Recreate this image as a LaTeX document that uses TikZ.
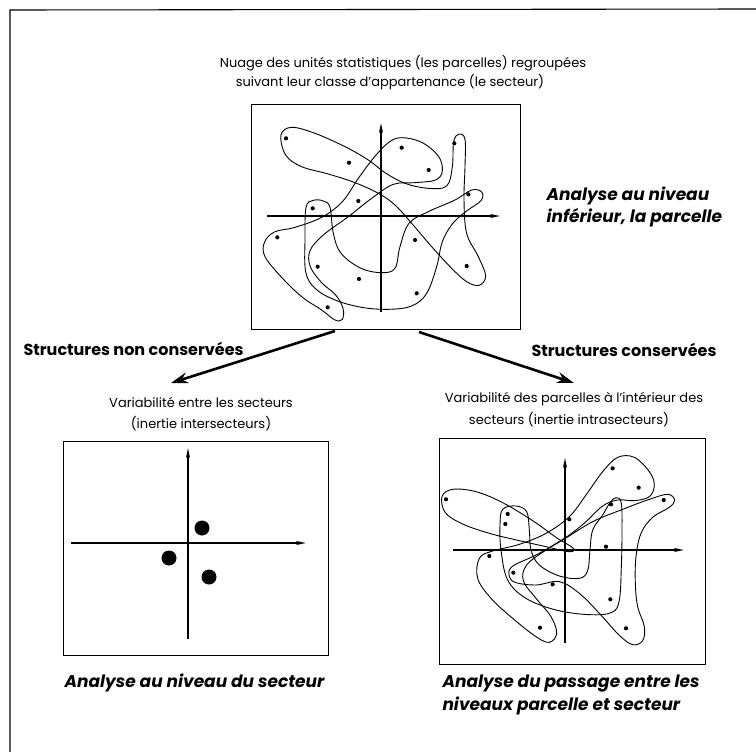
\documentclass[tikz,border=0pt]{standalone}
\usepackage{fontspec}
\setmainfont{Poppins}
\usetikzlibrary{arrows.meta}
\begin{document}
\begin{tikzpicture}[x=1pt,y=-1pt,
  frame/.style={line width=1.1pt},
  panel/.style={draw, line width=1.3pt, inner sep=0pt, anchor=north west},
  axis/.style={line width=1.6pt, -{Stealth[length=10pt,width=4pt]}},
  blob/.style={line width=0.9pt},
  dot/.style={circle, fill, inner sep=0pt, minimum size=4.2pt},
  bigdot/.style={circle, fill, inner sep=0pt, minimum size=15pt},
  small/.style={font=\fontsize{13}{16}\selectfont},
  heading/.style={font=\bfseries\fontsize{16}{19}\selectfont},
  emph/.style={font=\bfseries\itshape\fontsize{17}{22.5}\selectfont, align=left},
  branch/.style={line width=2.6pt, -{Stealth[length=17pt,width=11pt]}},
]
\useasboundingbox (0,0) rectangle (756,752);
% outer frame (top and left only)
\draw[frame] (10,752) -- (10,10) -- (756,9);

% ---------- texts ----------
\node[small] (tt1) at (403,63) {Nuage des unités statistiques (les parcelles) regroupées};
\node[small] (tt2) at (390,82) {suivant leur classe d'appartenance (le secteur)};
\node[emph, anchor=west] (ta) at (543,207) {Analyse au niveau\\inférieur, la parcelle};
\node[heading, anchor=west] (hs1) at (20,349) {Structures non conservées};
\node[heading, anchor=west] (hs2) at (528,350) {Structures conservées};
\node[small] (vl1) at (201,402) {Variabilité entre les secteurs};
\node[small] (vl2) at (201,424) {(inertie intersecteurs)};
\node[small] (vr1) at (574,399) {Variabilité des parcelles à l'intérieur des};
\node[small] (vr2) at (569,420) {secteurs (inertie intrasecteurs)};
\node[emph, anchor=west] (bl) at (61,683) {Analyse au niveau du secteur};
\node[emph, anchor=west] (br) at (439,695) {Analyse du passage entre les\\niveaux parcelle et secteur};

% ---------- panels ----------
\node[panel, minimum width=269pt, minimum height=225pt] (ptop) at (251,104) {};
\node[panel, minimum width=265pt, minimum height=214pt] (pbl) at (63,441) {};
\node[panel, minimum width=266pt, minimum height=226pt] (pbr) at (439,438) {};

% ---------- branch arrows ----------
\coordinate (ls) at (335,331);
\coordinate (le) at (171,383);
\coordinate (rs) at (419,332);
\coordinate (re) at (574,383);
\draw[branch] (ls) -- (le);
\draw[branch] (rs) -- (re);

% ---------- top panel ----------
\coordinate (tya) at (381,312); \coordinate (tyb) at (381,123);
\coordinate (txa) at (267,216); \coordinate (txb) at (500,216);
\draw[axis] (tya) -- (tyb);
\draw[axis] (txa) -- (txb);
\begin{scope}[shift={(255,100)}, scale=1/3]
\draw[blob] plot[smooth cycle, tension=0.6] coordinates {(78,105) (110,82) (180,100) (270,140) (340,180) (390,218) (450,250) (520,265) (575,258) (592,200) (596,125) (612,102) (630,118) (630,200) (627,300) (635,400) (670,470) (692,528) (672,556) (635,545) (590,505) (530,440) (470,370) (420,315) (370,280) (300,248) (220,222) (140,200) (92,165)};
\draw[blob] plot[smooth cycle, tension=0.6] coordinates {(440,113) (500,127) (550,168) (562,212) (542,240) (480,248) (415,253) (350,295) (280,350) (205,405) (165,452) (166,500) (200,548) (242,585) (264,625) (262,658) (240,660) (200,630) (140,590) (78,530) (30,470) (28,428) (58,396) (120,382) (200,352) (262,305) (310,235) (355,175) (400,128)};
\draw[blob] plot[smooth cycle, tension=0.6] coordinates {(205,303) (225,322) (235,400) (258,460) (318,505) (380,518) (420,505) (435,440) (462,370) (520,335) (600,300) (650,270) (680,276) (678,302) (632,335) (592,372) (562,425) (545,500) (515,580) (470,618) (400,628) (320,622) (240,600) (180,565) (152,515) (150,420) (153,322) (175,301)};
\node[dot] (d1) at (93,115) {};
\node[dot] (d2) at (282,188) {};
\node[dot] (d3) at (440,143) {};
\node[dot] (d4) at (521,210) {};
\node[dot] (d5) at (598,130) {};
\node[dot] (d6) at (640,283) {};
\node[dot] (d7) at (310,303) {};
\node[dot] (d8) at (173,325) {};
\node[dot] (d9) at (67,412) {};
\node[dot] (d10) at (480,420) {};
\node[dot] (d11) at (188,500) {};
\node[dot] (d12) at (312,537) {};
\node[dot] (d13) at (635,498) {};
\node[dot] (d14) at (485,580) {};
\node[dot] (d15) at (218,622) {};
\end{scope}

% ---------- bottom-left panel ----------
\coordinate (lya) at (188,639); \coordinate (lyb) at (188,448);
\coordinate (lxa) at (71,543); \coordinate (lxb) at (306,543);
\draw[axis] (lya) -- (lyb);
\draw[axis] (lxa) -- (lxb);
\node[bigdot] (g1) at (202,528) {};
\node[bigdot] (g2) at (169,558) {};
\node[bigdot] (g3) at (209,577) {};

% ---------- bottom-right panel ----------
\coordinate (rya) at (565,643); \coordinate (ryb) at (565,458);
\coordinate (rxa) at (453,550); \coordinate (rxb) at (684,550);
\draw[axis] (rya) -- (ryb);
\draw[axis] (rxa) -- (rxb);
\begin{scope}[shift={(436,450)}, scale=1/3]
\draw[blob] plot[smooth cycle, tension=0.6] coordinates {(18,140) (50,118) (120,125) (200,158) (290,212) (360,262) (412,295) (398,305) (330,290) (250,272) (160,250) (80,222) (28,188)};
\draw[blob] plot[smooth cycle, tension=0.6] coordinates {(200,178) (240,168) (272,185) (280,240) (285,300) (310,345) (370,378) (430,385) (455,362) (462,300) (470,240) (500,195) (522,158) (540,143) (556,160) (558,250) (556,350) (550,450) (528,487) (460,494) (360,480) (270,445) (215,390) (195,300) (192,225)};
\draw[blob] plot[smooth cycle, tension=0.6] coordinates {(130,325) (170,303) (250,283) (330,250) (400,200) (450,135) (500,65) (545,22) (595,22) (640,65) (655,105) (640,140) (595,152) (545,150) (500,168) (450,215) (400,255) (330,300) (272,345) (262,392) (300,445) (345,500) (362,550) (340,577) (300,560) (230,505) (165,445) (125,385)};
\draw[blob] plot[smooth cycle, tension=0.6] coordinates {(228,350) (300,315) (380,270) (470,215) (560,178) (640,148) (695,133) (716,150) (700,172) (650,202) (615,250) (600,320) (598,400) (605,470) (625,530) (620,572) (590,584) (550,556) (490,490) (430,430) (370,395) (300,405) (240,398) (220,380)};
\node[dot] (e1) at (30,148) {};
\node[dot] (e2) at (530,55) {};
\node[dot] (e3) at (608,113) {};
\node[dot] (e4) at (683,150) {};
\node[dot] (e5) at (525,163) {};
\node[dot] (e6) at (215,192) {};
\node[dot] (e7) at (208,222) {};
\node[dot] (e8) at (400,208) {};
\node[dot] (e9) at (510,290) {};
\node[dot] (e10) at (160,318) {};
\node[dot] (e11) at (232,368) {};
\node[dot] (e12) at (350,403) {};
\node[dot] (e13) at (523,448) {};
\node[dot] (e14) at (312,533) {};
\node[dot] (e15) at (570,535) {};
\end{scope}
\end{tikzpicture}
\end{document}
